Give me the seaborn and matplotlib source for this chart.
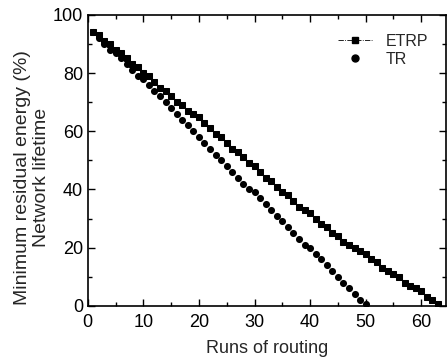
import numpy as np
import pandas as pd
import seaborn as sns
import matplotlib.pyplot as plt
from matplotlib.ticker import MultipleLocator
from matplotlib.lines import Line2D

# data
etrp_runs = list(range(1, 64))
etrp_energy = [94, 93, 91, 90, 88, 87, 85, 83, 82, 80,
               79, 77, 75, 74, 72, 70, 69, 67, 66, 65,
               63, 61, 59, 58, 56, 54, 53, 51, 49, 48,
               46, 44, 43, 41, 39, 38, 36, 34, 33, 32,
               30, 28, 27, 25, 24, 22, 21, 20, 19, 18,
               16, 15, 13, 12, 11, 10, 8, 7, 6, 5,
               3, 2, 0.5]
tr_runs = list(range(1, 51))
tr_energy = [94, 92, 90, 88, 87, 85, 83, 81, 79, 78,
             76, 74, 72, 70, 68, 66, 64, 62, 60, 58,
             56, 54, 52, 50, 48, 46, 44, 42, 40, 39,
             37, 35, 33, 31, 29, 27, 25, 23, 21, 20,
             18, 16, 14, 12, 10, 8, 6, 4, 2, 0.5]

sns.set_style("ticks")
plt.rcParams['font.family'] = ['Liberation Sans', 'DejaVu Sans']

fig = plt.figure(figsize=(4.48, 3.62), dpi=100)
ax = fig.add_axes([0.196, 0.155, 0.8, 0.804])

etrp = pd.DataFrame({'run': etrp_runs, 'energy': etrp_energy})
tr = pd.DataFrame({'run': tr_runs, 'energy': tr_energy})

sns.lineplot(data=etrp, x='run', y='energy', ax=ax, color='black',
             linestyle='-.', linewidth=0.6, marker='s', markersize=5,
             markeredgecolor='black')
sns.scatterplot(data=tr, x='run', y='energy', ax=ax, color='black',
                marker='o', s=26, edgecolor='black', linewidth=0)

ax.set_xlim(0, 64.5)
ax.set_ylim(0, 100)
ax.xaxis.set_major_locator(MultipleLocator(10))
ax.xaxis.set_minor_locator(MultipleLocator(5))
ax.yaxis.set_major_locator(MultipleLocator(20))
ax.yaxis.set_minor_locator(MultipleLocator(10))
ax.tick_params(which='both', direction='in', top=True, right=True,
               labelsize=13, width=1, colors='black')
ax.tick_params(which='major', length=5)
ax.tick_params(which='minor', length=3)
ax.tick_params(axis='x', pad=6)
for s in ax.spines.values():
    s.set_linewidth(1.2)
    s.set_color('black')

ax.set_xlabel('Runs of routing', fontsize=13, labelpad=6)
ax.set_ylabel('Minimum residual energy (%)\nNetwork lifetime', fontsize=14,
              linespacing=1.2)
ax.yaxis.set_label_coords(-0.105, 0.44)

handles = [Line2D([], [], color='black', linestyle='-.', linewidth=0.6,
                  marker='s', markersize=5),
           Line2D([], [], color='black', linestyle='none', marker='o',
                  markersize=5)]
ax.legend(handles, ['ETRP', 'TR'], loc='upper right', frameon=False,
          fontsize=11.5, handlelength=2.2, labelspacing=0.2,
          bbox_to_anchor=(0.99, 0.985))

fig.savefig('out.png', dpi=100)
